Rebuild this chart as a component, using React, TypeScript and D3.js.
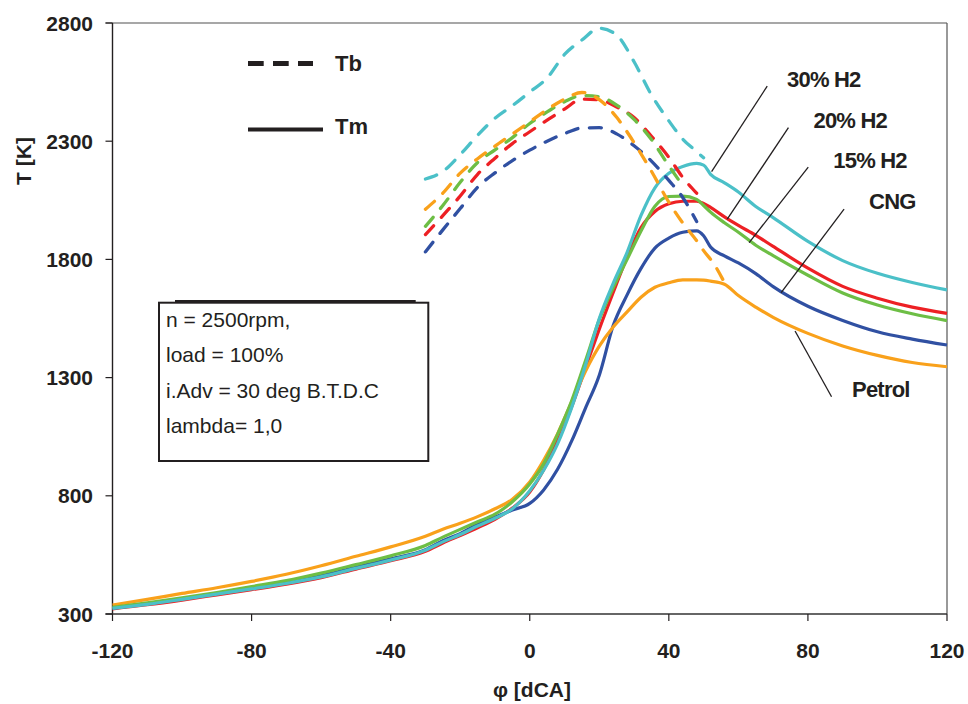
import React from 'react';
import * as d3 from 'd3';

// Crank angle grid for mean temperature Tm (solid)
const PHI_M = [-120, -110, -100, -90, -80, -70, -60, -50, -40, -30, -25, -20, -15, -10, -5, 0, 4, 8, 12, 16, 20, 24, 28, 32, 36, 40, 44, 48, 50, 52, 56, 60, 65, 70, 80, 90, 100, 110, 120];

const TM_H30 = [324, 341, 362, 384, 406, 429, 457, 493, 528, 570, 605, 636, 672, 705, 745, 821, 908, 1020, 1171, 1350, 1550, 1699, 1830, 1986, 2103, 2164, 2193, 2206, 2199, 2160, 2124, 2085, 2024, 1977, 1876, 1795, 1741, 1702, 1671];
const TM_H20 = [322, 339, 359, 381, 403, 426, 454, 490, 525, 565, 600, 632, 665, 700, 748, 816, 910, 1035, 1175, 1340, 1505, 1660, 1810, 1935, 2003, 2035, 2046, 2046, 2037, 2020, 1980, 1944, 1902, 1855, 1763, 1686, 1636, 1598, 1572];
const TM_H15 = [328, 347, 368, 391, 416, 441, 473, 509, 546, 590, 625, 658, 690, 722, 775, 850, 935, 1060, 1200, 1370, 1545, 1680, 1800, 1920, 2025, 2066, 2068, 2054, 2028, 2000, 1955, 1915, 1860, 1816, 1733, 1658, 1607, 1570, 1541];
const TM_CNG = [325, 343, 364, 386, 409, 432, 462, 498, 533, 572, 610, 640, 680, 710, 740, 768, 825, 912, 1030, 1170, 1310, 1520, 1650, 1762, 1848, 1890, 1915, 1921, 1900, 1852, 1815, 1785, 1740, 1685, 1602, 1542, 1494, 1463, 1438];
const TM_PETROL = [338, 362, 387, 411, 438, 468, 504, 544, 584, 629, 659, 684, 712, 745, 785, 858, 950, 1062, 1195, 1326, 1433, 1514, 1578, 1640, 1682, 1701, 1713, 1713, 1712, 1708, 1695, 1647, 1598, 1555, 1487, 1434, 1394, 1364, 1346];

// Crank angle grid for burned-zone temperature Tb (dashed)
const PHI_B = [-30, -25, -20, -15, -10, -5, 0, 5, 10, 15, 20, 25, 30, 35, 40, 44, 48, 50, 53, 56];

const TB_H30 = [2140, 2172, 2243, 2325, 2397, 2450, 2508, 2567, 2667, 2728, 2778, 2749, 2636, 2496, 2386, 2309, 2256, 2230, null, null];
const TB_H20 = [1905, 1985, 2068, 2160, 2228, 2290, 2340, 2389, 2436, 2478, 2475, 2445, 2400, 2321, 2232, 2147, 2080, null, null, null];
const TB_H15 = [1940, 2028, 2126, 2210, 2263, 2315, 2375, 2424, 2467, 2493, 2488, 2453, 2392, 2307, 2196, 2112, null, null, null, null];
const TB_CNG = [1832, 1925, 2015, 2105, 2166, 2218, 2262, 2300, 2332, 2356, 2357, 2331, 2281, 2216, 2134, 2062, 1960, null, null, null];
const TB_PETROL = [2012, 2080, 2165, 2226, 2279, 2330, 2382, 2434, 2478, 2506, 2476, 2401, 2294, 2173, 2042, 1954, 1879, 1837, 1780, 1702];

const X_TICKS = [-120, -80, -40, 0, 40, 80, 120];
const Y_TICKS = [300, 800, 1300, 1800, 2300, 2800];

const LABELS = ['30% H2', '20% H2', '15% H2', 'CNG', 'Petrol'];
const COLORS = ['#4BC0C8', '#ED2024', '#6DBE45', '#3050A2', '#F9A11B'];
// label anchor (phi, T) and leader line [from phi,T, to phi,T]
const LABEL_POS = [[74, 2529], [81.6, 2357], [87.3, 2188], [97.6, 2013], [92.7, 1219]];
const LEADERS = [
  [68.3, 2533, 52.3, 2171],
  [74.4, 2357, 56.8, 1970],
  [80.1, 2190, 63.1, 1871],
  [90.4, 2013, 72.3, 1659],
  [76.3, 1497, 86.8, 1219],
];

const BOX_LINES = ['n = 2500rpm,', 'load = 100%', 'i.Adv = 30 deg B.T.D.C', 'lambda= 1,0'];

const FONT = '"Liberation Sans", Arial, Helvetica, sans-serif';
const INK = '#231F20';

export default function App() {
  const x = d3.scaleLinear().domain([-120, 120]).range([112.5, 947]);
  const y = d3.scaleLinear().domain([300, 2800]).range([614, 23]);

  const line = d3
    .line<[number, number | null]>()
    .defined((d) => d[1] != null)
    .x((d) => x(d[0]))
    .y((d) => y(d[1] as number))
    .curve(d3.curveMonotoneX);

  const tm = [TM_H30, TM_H20, TM_H15, TM_CNG, TM_PETROL];
  const tb = [TB_H30, TB_H20, TB_H15, TB_CNG, TB_PETROL];
  // draw order for solid lines: red, blue, orange, green, cyan
  const solidOrder = [1, 3, 4, 2, 0];
  const dashOrder = [3, 1, 2, 4, 0];

  const x0 = x(-120), x1 = x(120), yTop = y(2800), yBot = y(300);

  return (
    <svg
      width={968}
      height={704}
      style={{ position: 'absolute', left: 0, top: 0, background: '#fff' }}
      fontFamily={FONT}
    >
      <rect x={0} y={0} width={968} height={704} fill="#fff" />
      {/* frame */}
      <line x1={x0 - 7} x2={x1} y1={yTop} y2={yTop} stroke="#8a8a8a" strokeWidth={1.4} />
      <line x1={x1} x2={x1} y1={yTop} y2={yBot} stroke="#555" strokeWidth={1.2} />
      <line x1={x0} x2={x0} y1={yTop} y2={yBot} stroke={INK} strokeWidth={1.4} />
      <line x1={x0 - 7} x2={x1} y1={yBot} y2={yBot} stroke="#333" strokeWidth={1.4} />
      {Y_TICKS.map((t) => (
        <g key={'yt' + t}>
          <line x1={x0 - 7} x2={x0} y1={y(t)} y2={y(t)} stroke={INK} strokeWidth={1.2} />
          <text x={93} y={y(t) + 7.5} textAnchor="end" fontSize={21} fontWeight="bold" fill={INK}>
            {t}
          </text>
        </g>
      ))}
      {X_TICKS.map((t) => (
        <g key={'xt' + t}>
          <line x1={x(t)} x2={x(t)} y1={yBot} y2={yBot + 7} stroke={INK} strokeWidth={1.2} />
          <text x={x(t)} y={658} textAnchor="middle" fontSize={21} fontWeight="bold" fill={INK}>
            {t}
          </text>
        </g>
      ))}
      <text
        transform={`translate(31,161) rotate(-90)`}
        textAnchor="middle"
        fontSize={21}
        fontWeight="bold"
        fill={INK}
      >
        T [K]
      </text>
      <text x={532} y={697} textAnchor="middle" fontSize={21} fontWeight="bold" fill={INK}>
        φ [dCA]
      </text>

      {/* solid Tm lines */}
      {solidOrder.map((i) => (
        <path
          key={'tm' + i}
          d={line(PHI_M.map((p, k) => [p, tm[i][k]] as [number, number])) || ''}
          fill="none"
          stroke={COLORS[i]}
          strokeWidth={3.2}
          strokeLinejoin="round"
        />
      ))}
      {/* dashed Tb lines */}
      {dashOrder.map((i) => (
        <path
          key={'tb' + i}
          d={line(PHI_B.map((p, k) => [p, tb[i][k]] as [number, number | null])) || ''}
          fill="none"
          stroke={COLORS[i]}
          strokeWidth={3.3}
          strokeDasharray="12 11.5"
          strokeLinecap="round"
          strokeLinejoin="round"
        />
      ))}

      {/* legend */}
      <line x1={248} x2={313} y1={63.5} y2={63.5} stroke={INK} strokeWidth={5} strokeDasharray="15.7 9.3" />
      <text x={335} y={71} fontSize={22} fontWeight="bold" fill={INK}>
        Tb
      </text>
      <line x1={248} x2={323} y1={129.5} y2={129.5} stroke={INK} strokeWidth={4} />
      <text x={335} y={134} fontSize={22} fontWeight="bold" fill={INK}>
        Tm
      </text>

      {/* curve labels */}
      {LEADERS.map((l, i) => (
        <line
          key={'ld' + i}
          x1={x(l[0])}
          y1={y(l[1])}
          x2={x(l[2])}
          y2={y(l[3])}
          stroke={INK}
          strokeWidth={1.3}
        />
      ))}
      {LABELS.map((s, i) => (
        <text
          key={'lb' + i}
          x={x(LABEL_POS[i][0])}
          y={y(LABEL_POS[i][1])}
          fontSize={22}
          fontWeight="bold"
          letterSpacing={-0.8}
          fill={INK}
        >
          {s}
        </text>
      ))}

      {/* parameter box */}
      <rect x={159} y={302.7} width={269.3} height={158.3} fill="#fff" stroke={INK} strokeWidth={2} />
      <line x1={175} x2={415.7} y1={301} y2={301} stroke={INK} strokeWidth={2} />
      {BOX_LINES.map((s, i) => (
        <text key={'bx' + i} x={166} y={326.7 + i * 35.4} fontSize={21} fill={INK}>
          {s}
        </text>
      ))}
    </svg>
  );
}
